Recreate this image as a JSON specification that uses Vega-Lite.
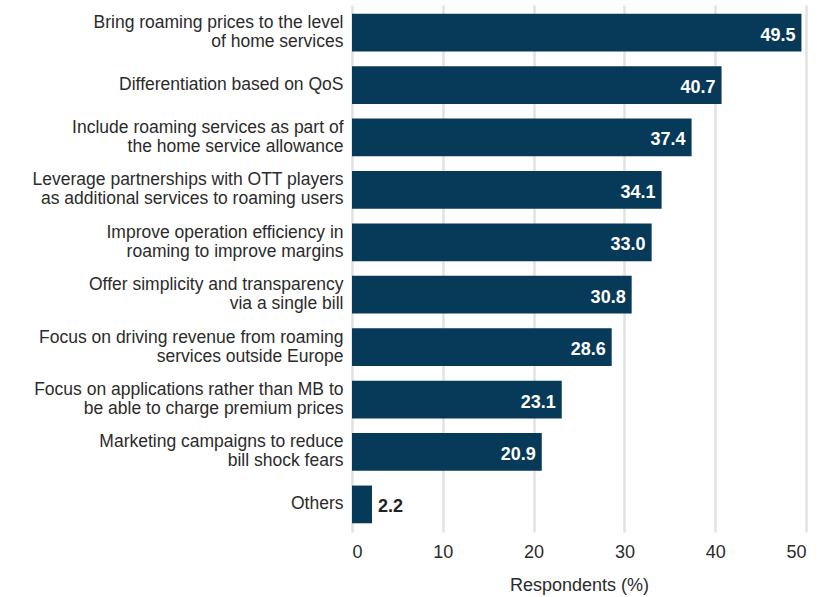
{
  "$schema": "https://vega.github.io/schema/vega-lite/v6.json",
  "width": 454,
  "height": 527,
  "autosize": {"type": "none"},
  "padding": {"left": 352, "top": 5, "right": 15, "bottom": 65},
  "background": "white",
  "config": {
    "view": {"stroke": null},
    "font": "Liberation Sans",
    "axis": {"labelFont": "Liberation Sans", "titleFont": "Liberation Sans"}
  },
  "data": {
    "values": [
      {"cat": "Bring roaming prices to the level|of home services", "value": 49.5, "grp": "in"},
      {"cat": "Differentiation based on QoS", "value": 40.7, "grp": "in"},
      {"cat": "Include roaming services as part of|the home service allowance", "value": 37.4, "grp": "in"},
      {"cat": "Leverage partnerships with OTT players|as additional services to roaming users", "value": 34.1, "grp": "in"},
      {"cat": "Improve operation efficiency in|roaming to improve margins", "value": 33.0, "grp": "in"},
      {"cat": "Offer simplicity and transparency|via a single bill", "value": 30.8, "grp": "in"},
      {"cat": "Focus on driving revenue from roaming|services outside Europe", "value": 28.6, "grp": "in"},
      {"cat": "Focus on applications rather than MB to|be able to charge premium prices", "value": 23.1, "grp": "in"},
      {"cat": "Marketing campaigns to reduce|bill shock fears", "value": 20.9, "grp": "in"},
      {"cat": "Others", "value": 2.2, "grp": "out"}
    ]
  },
  "encoding": {
    "y": {
      "field": "cat",
      "type": "nominal",
      "sort": null,
      "scale": {"paddingInner": 0.28, "paddingOuter": 0.166},
      "axis": {
        "title": null,
        "domain": false,
        "ticks": false,
        "labelExpr": "split(datum.label, '|')",
        "labelOffset": {"condition": {"test": "indexof(datum.value, '|') >= 0", "value": -9.5}, "value": 0},
        "labelFontSize": 17.5,
        "labelLineHeight": 19,
        "labelColor": "#2b2b2b",
        "labelPadding": 9,
        "labelLimit": 400
      }
    },
    "x": {
      "field": "value",
      "type": "quantitative",
      "scale": {"domain": [0, 50], "nice": false},
      "axis": {
        "title": "Respondents (%)",
        "values": [0, 10, 20, 30, 40, 50],
        "domain": false,
        "ticks": false,
        "grid": true,
        "gridColor": "#e2e2e2",
        "gridWidth": 2.5,
        "labelFontSize": 18,
        "labelColor": "#2b2b2b",
        "labelPadding": 11,
        "titleFontSize": 18,
        "titleFontWeight": "normal",
        "titleColor": "#2b2b2b",
        "titlePadding": 15
      }
    }
  },
  "layer": [
    {"mark": {"type": "bar", "color": "#073a58"}},
    {
      "transform": [{"filter": "datum.grp == 'in'"}],
      "mark": {"type": "text", "align": "right", "dx": -6, "color": "white", "fontWeight": "bold", "fontSize": 18, "baseline": "middle", "dy": 3},
      "encoding": {"text": {"field": "value", "type": "quantitative", "format": ".1f"}}
    },
    {
      "transform": [{"filter": "datum.grp == 'out'"}],
      "mark": {"type": "text", "align": "left", "dx": 6, "color": "#222222", "fontWeight": "bold", "fontSize": 18, "baseline": "middle", "dy": 3},
      "encoding": {"text": {"field": "value", "type": "quantitative", "format": ".1f"}}
    }
  ]
}
